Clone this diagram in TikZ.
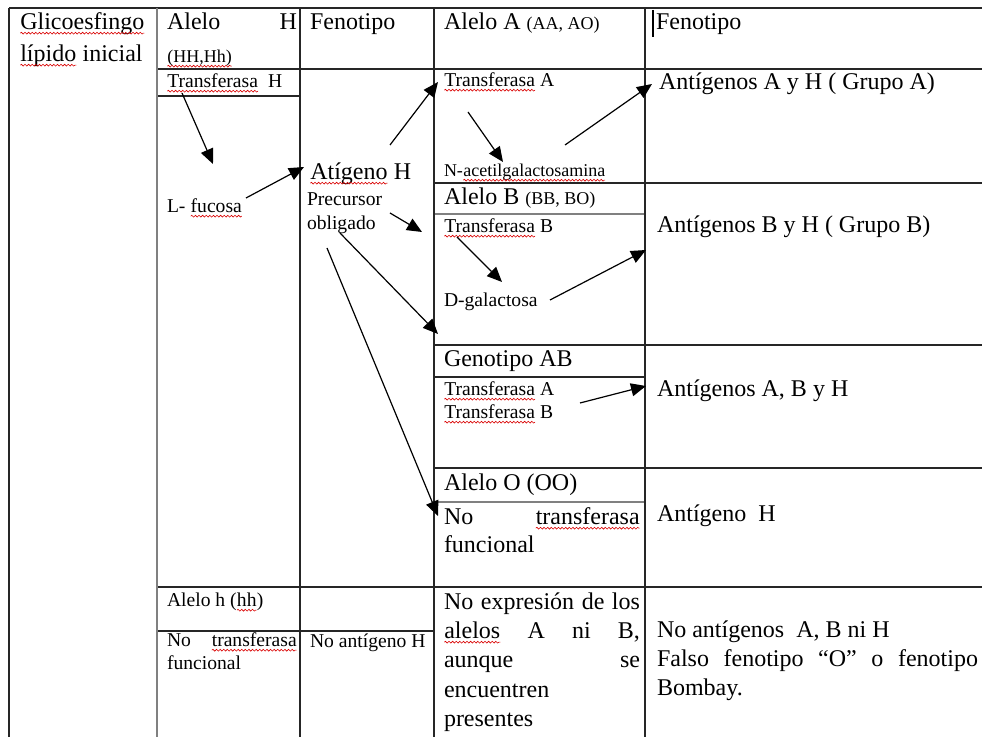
\documentclass[tikz,border=0pt]{standalone}
\usepackage{fontspec}
\setmainfont{Liberation Serif}
\usetikzlibrary{arrows.meta,decorations.pathmorphing}
\newcommand\sq[1]{\tikz[baseline=(w.base)]{\node[inner sep=0pt,outer sep=0pt,anchor=base](w){#1};\draw[red!85!black,line width=0.3pt,decorate,decoration={snake,amplitude=0.45pt,segment length=1.8pt}] ([yshift=-1.6pt]w.base west) -- ([yshift=-1.6pt]w.base east);}}
\newcommand\smallp{\fontsize{9}{11}\selectfont}
\tikzset{
  grid/.style={line width=0.6pt, draw=black!85},
  gridgray/.style={line width=0.9pt, draw=black!50},
  txt/.style={anchor=base west, inner sep=0pt, outer sep=0pt, font=\fontsize{12}{14.5}\selectfont},
  sml/.style={anchor=base west, inner sep=0pt, outer sep=0pt, font=\fontsize{9.8}{11.5}\selectfont},
  arr/.style={-{Triangle[length=7.5pt,width=6.5pt]}, line width=0.6pt},
}
\begin{document}
\begin{tikzpicture}[x=0.5pt,y=-0.5pt]
\useasboundingbox (0,0) rectangle (982,737);
% table grid
\draw[grid] (9,8) -- (982,8);
\draw[grid] (157,69) -- (982,69);
\draw[grid] (157,96) -- (300,96);
\draw[grid] (434,183) -- (982,183);
\draw[gridgray] (434,214) -- (645,214);
\draw[grid] (434,345) -- (982,345);
\draw[grid] (434,377) -- (645,377);
\draw[grid] (434,468) -- (982,468);
\draw[gridgray] (434,502) -- (645,502);
\draw[grid] (157,587) -- (982,587);
\draw[grid] (157,631) -- (434,631);
\draw[grid] (9,8) -- (9,737);
\draw[gridgray] (157,8) -- (157,737);
\draw[grid] (300,8) -- (300,737);
\draw[grid] (434,8) -- (434,737);
\draw[grid] (645,8) -- (645,737);
% cursor
\coordinate (cur1) at (653,10);
\coordinate (cur2) at (653,37);
\draw[line width=0.9pt] (cur1) -- (cur2);
% texts
\node[txt] (g1) at (20,30) {\sq{Glicoesfingo}};
\node[txt] (g2) at (20,62) {\sq{lípido} inicial};
\node[txt] (ah1) at (167,30) {\makebox[65pt][s]{Alelo H}};
\node[sml] (ah2) at (167,63) {\smallp\sq{(HH,Hh)}};
\node[txt] (f1) at (310,30) {Fenotipo};
\node[txt] (aa) at (444,30) {Alelo A {\smallp(AA, AO)}};
\node[txt] (f2) at (656,30) {Fenotipo};
\node[sml] (th) at (167,88) {\sq{Transferasa}\ \ H};
\node[sml] (lf) at (167,213) {L- \sq{fucosa}};
\node[txt] (atg) at (310,180) {\sq{Atígeno} H};
\node[sml] (pr) at (307,206) {Precursor};
\node[sml] (ob) at (307,230) {obligado};
\node[sml] (ta) at (444,87) {\sq{Transferasa} A};
\node[sml] (na) at (444,177) {\smallp N-\sq{acetilgalactosamina}};
\node[txt] (ab) at (444,205) {Alelo B {\smallp(BB, BO)}};
\node[sml] (tb) at (444,233) {\sq{Transferasa} B};
\node[txt] (ga) at (659,90) {Antígenos A y H ( Grupo A)};
\node[txt] (gb) at (657,233) {Antígenos B y H ( Grupo B)};
\node[sml] (dg) at (444,307) {D-galactosa};
\node[txt] (gab) at (444,367) {Genotipo AB};
\node[sml] (ta2) at (444,396) {\sq{Transferasa} A};
\node[sml] (tb2) at (444,419) {\sq{Transferasa} B};
\node[txt] (gabh) at (657,397) {Antígenos A, B y H};
\node[txt] (ao) at (444,491) {Alelo O (OO)};
\node[txt] (nt1) at (444,525) {\makebox[98pt][s]{No \sq{transferasa}}};
\node[txt] (nt2) at (444,553) {funcional};
\node[txt] (agh) at (657,522) {Antígeno\ \ H};
\node[sml] (ahh) at (167,607) {Alelo h (\sq{hh})};
\node[sml] (nth1) at (167,647) {\makebox[65pt][s]{No \sq{transferasa}}};
\node[sml] (nth2) at (167,670) {funcional};
\node[sml] (nah) at (310,648) {No antígeno H};
\node[txt] (ne1) at (444,610) {\makebox[98pt][s]{No expresión de los}};
\node[txt] (ne2) at (444,639) {\makebox[98pt][s]{\sq{alelos} A ni B,}};
\node[txt] (ne3) at (444,668) {\makebox[98pt][s]{aunque se}};
\node[txt] (ne4) at (444,698) {encuentren};
\node[txt] (ne5) at (444,727) {presentes};
\node[txt] (nb1) at (657,638) {No antígenos\ \ A, B ni H};
\node[txt] (nb2) at (657,667) {\makebox[160.5pt][s]{Falso fenotipo “O” o fenotipo}};
\node[txt] (nb3) at (657,696) {Bombay.};
% arrow end points
\coordinate (a1s) at (182,93);  \coordinate (a1e) at (213,164);
\coordinate (a2s) at (246,198); \coordinate (a2e) at (304,167);
\coordinate (a3s) at (390,145); \coordinate (a3e) at (438,82);
\coordinate (a4s) at (468,112); \coordinate (a4e) at (503,162);
\coordinate (a5s) at (565,145); \coordinate (a5e) at (652,84);
\coordinate (a6s) at (390,213); \coordinate (a6e) at (422,232);
\coordinate (a7s) at (457,237); \coordinate (a7e) at (502,282);
\coordinate (a8s) at (550,300); \coordinate (a8e) at (646,250);
\coordinate (a9s) at (340,233); \coordinate (a9e) at (438,334);
\coordinate (a10s) at (327,248); \coordinate (a10e) at (438,516);
\coordinate (a11s) at (580,403); \coordinate (a11e) at (646,386);
\foreach \i in {1,...,11} {\draw[arr] (a\i s) -- (a\i e);}
\end{tikzpicture}
\end{document}
